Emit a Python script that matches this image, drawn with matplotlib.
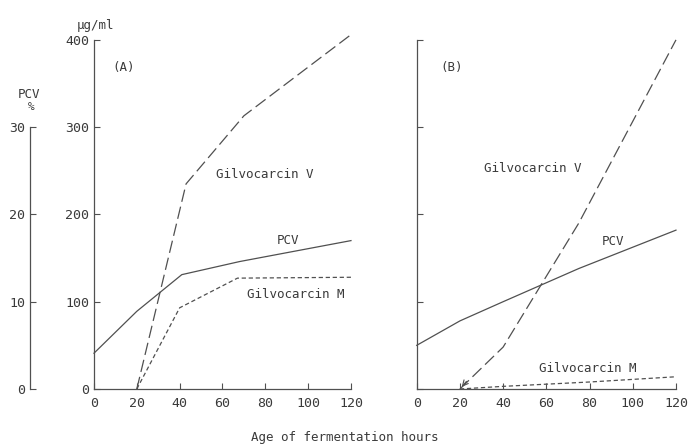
import matplotlib
matplotlib.use("Agg")
import matplotlib.pyplot as plt

plt.rcParams["font.family"] = ["DejaVu Sans Mono"]

INK = "#3a3a3a"
LINE = "#505050"

hours_ticks = [0, 20, 40, 60, 80, 100, 120]
conc_ticks = [0, 100, 200, 300, 400]
pcv_ticks = [0, 10, 20, 30]

# panel A
a_pcv_x = [0, 20, 41, 68, 120]
a_pcv_y = [4.1, 8.9, 13.1, 14.6, 17.0]
a_gv_x = [20, 43, 70, 120]
a_gv_y = [0, 235, 313, 406]
a_gm_x = [20, 40, 67, 120]
a_gm_y = [0, 93, 127, 128]

# panel B
b_pcv_x = [0, 20, 40, 75, 120]
b_pcv_y = [5.0, 7.8, 10.0, 13.8, 18.2]
b_gv_x = [20, 40, 57, 75, 120]
b_gv_y = [0, 48, 117, 190, 400]
b_gm_x = [20, 40, 80, 120]
b_gm_y = [0, 3, 8, 14]

fig = plt.figure(figsize=(6.89, 4.47), dpi=100)
bottom, height = 0.1298, 0.781
ax_a = fig.add_axes([0.1364, bottom, 0.373, height])
ax_b = fig.add_axes([0.6048, bottom, 0.3763, height])


def style_axes(ax, labels=True):
    ax.set_xlim(0, 120)
    ax.set_ylim(0, 400)
    for s in ["top", "right"]:
        ax.spines[s].set_visible(False)
    for s in ["left", "bottom"]:
        ax.spines[s].set_color(LINE)
        ax.spines[s].set_linewidth(0.9)
    ax.set_xticks(hours_ticks)
    ax.set_yticks(conc_ticks)
    ax.tick_params(direction="in", length=4, width=0.8, colors=LINE,
                   labelcolor=INK, labelsize=9.5)
    ax.tick_params(axis="x", pad=6)
    if not labels:
        ax.set_yticklabels([])


style_axes(ax_a)
style_axes(ax_b, labels=False)

# PCV axes (share the same vertical scale, 10 % = 100 ug/ml)
tw_a = ax_a.twinx()
tw_b = ax_b.twinx()
for tw in (tw_a, tw_b):
    tw.set_ylim(0, 40)
    for s in tw.spines.values():
        s.set_visible(False)
    tw.set_yticks([])

tw_a.spines["left"].set_visible(True)
tw_a.spines["left"].set_position(("axes", -0.249))
tw_a.spines["left"].set_bounds(0, 30)
tw_a.spines["left"].set_color(LINE)
tw_a.spines["left"].set_linewidth(0.9)
tw_a.yaxis.set_ticks_position("left")
tw_a.yaxis.set_label_position("left")
tw_a.set_yticks(pcv_ticks)
tw_a.tick_params(axis="y", direction="in", length=4, width=0.8, colors=LINE,
                 labelcolor=INK, labelsize=9.5)

lw = 0.9
v_dash = (10, 4)
m_dash = (3.4, 2.2)
# A
tw_a.plot(a_pcv_x, a_pcv_y, color=LINE, lw=lw, clip_on=False)
ax_a.plot(a_gv_x, a_gv_y, color=LINE, lw=lw, dashes=v_dash, clip_on=False)
ax_a.plot(a_gm_x, a_gm_y, color=LINE, lw=lw, dashes=m_dash, clip_on=False)
# B
tw_b.plot(b_pcv_x, b_pcv_y, color=LINE, lw=lw, clip_on=False)
ax_b.plot(b_gv_x, b_gv_y, color=LINE, lw=lw, dashes=v_dash, clip_on=False)
ax_b.plot(b_gm_x, b_gm_y, color=LINE, lw=lw, dashes=m_dash, clip_on=False)
ax_b.annotate("", xy=(b_gv_x[0], b_gv_y[0]), xytext=(6, 7),
              textcoords="offset points",
              arrowprops=dict(arrowstyle="->", color=LINE, lw=0.8))


# text labels placed in pixel-ish figure coords
def ftext(x, y, s, size=9):
    fig.text(x / 689, 1 - y / 447, s, color=INK, fontsize=size,
             ha="center", va="center")


ftext(95, 25, "\u03bcg/ml")
ftext(29, 94, "PCV")
ftext(31, 107, "%", size=8)
ftext(124, 68, "(A)")
ftext(452, 68, "(B)")
ftext(265, 175, "Gilvocarcin V")
ftext(288, 240, "PCV")
ftext(296, 295, "Gilvocarcin M")
ftext(533, 168, "Gilvocarcin V")
ftext(613, 242, "PCV")
ftext(588, 368, "Gilvocarcin M")
ftext(345, 437, "Age of fermentation hours")

fig.savefig("out.png", dpi=100)
